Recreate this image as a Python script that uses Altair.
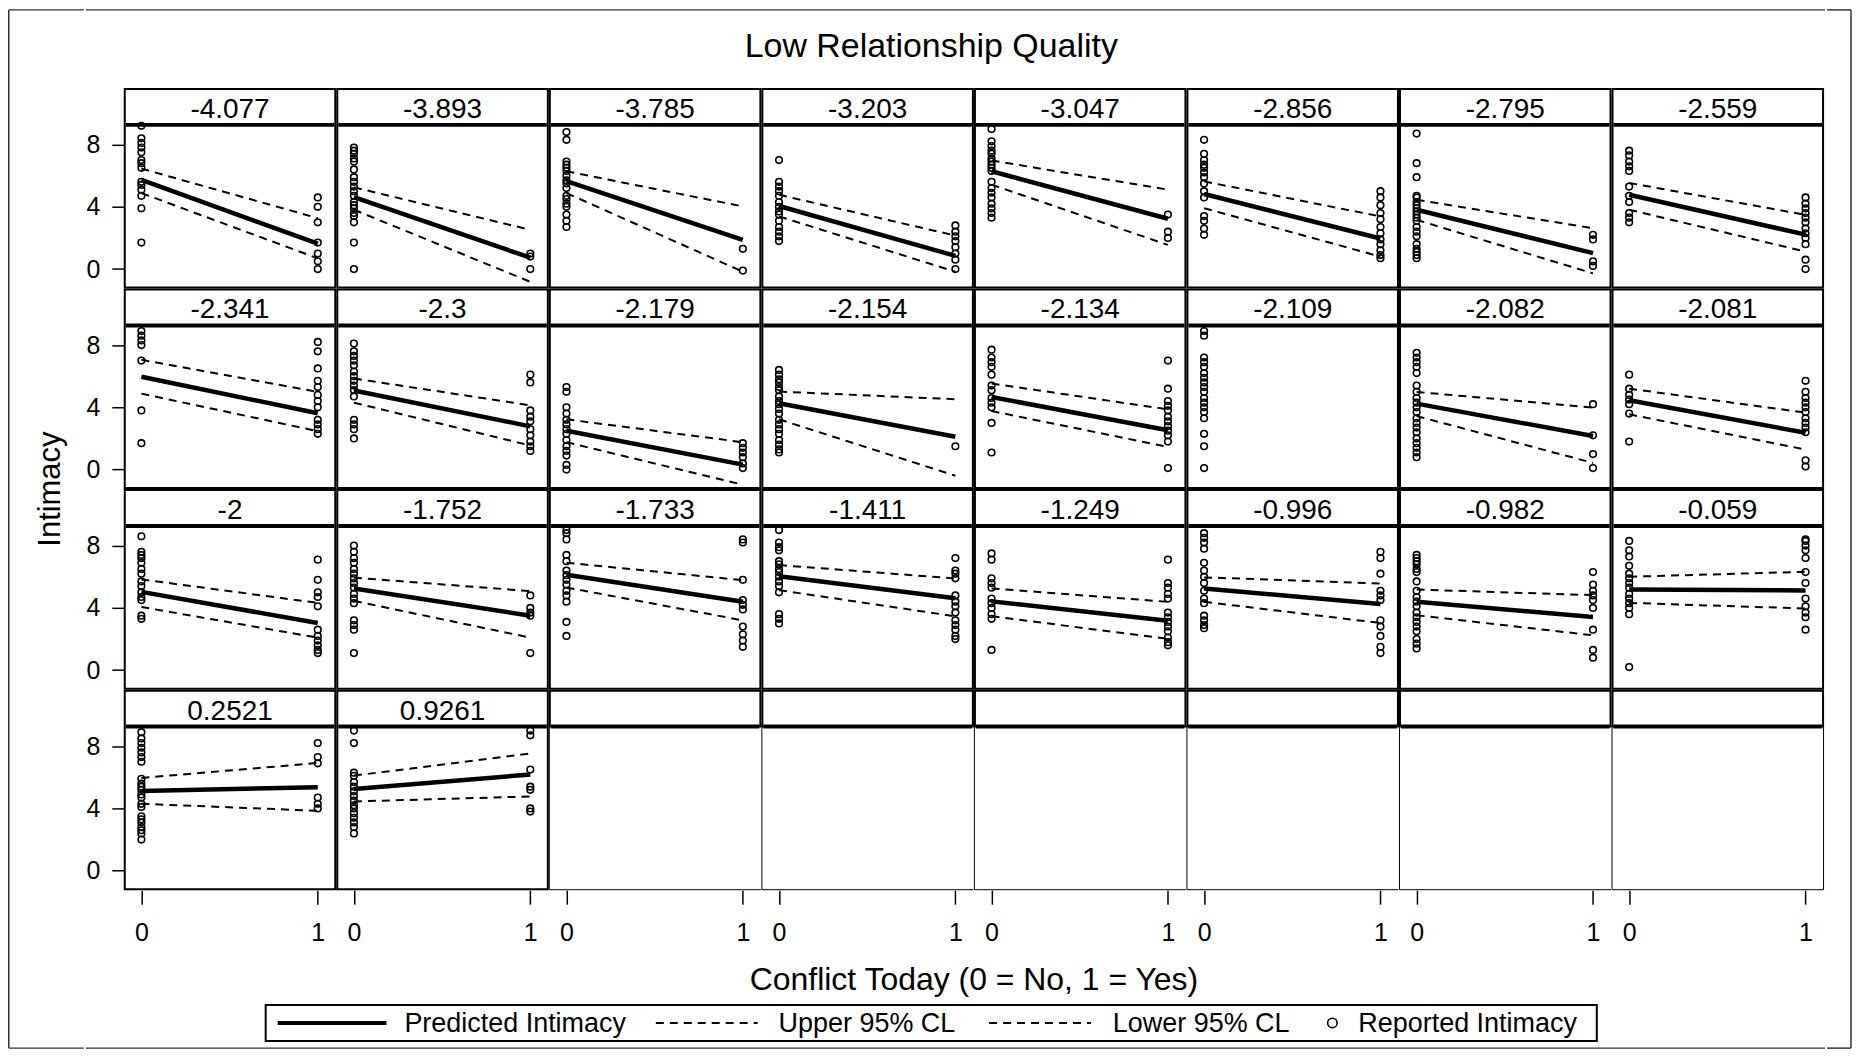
import altair as alt
import pandas as pd

FONT = "Liberation Sans"

title_text = "Low Relationship Quality"
x_title = "Conflict Today (0 = No, 1 = Yes)"
y_title = "Intimacy"
legend_labels = ["Predicted Intimacy", "Upper 95% CL", "Lower 95% CL", "Reported Intimacy"]
x_ticks = [0, 1]
y_ticks = [0, 4, 8]

headers = ["-4.077", "-3.893", "-3.785", "-3.203", "-3.047", "-2.856", "-2.795", "-2.559",
           "-2.341", "-2.3", "-2.179", "-2.154", "-2.134", "-2.109", "-2.082", "-2.081",
           "-2", "-1.752", "-1.733", "-1.411", "-1.249", "-0.996", "-0.982", "-0.059",
           "0.2521", "0.9261"]

pred0 = [5.72, 4.62, 5.65, 4.05, 6.28, 4.82, 3.81, 4.77,
         5.96, 5.08, 2.50, 4.26, 4.66, None, 4.24, 4.45,
         5.03, 5.25, 6.13, 6.03, 4.42, 5.25, 4.39, 5.18,
         5.12, 5.25]
pred1 = [1.64, 0.73, 1.87, 0.85, 3.23, 1.96, 1.02, 2.21,
         3.62, 2.78, 0.32, 2.11, 2.53, None, 2.16, 2.37,
         3.03, 3.50, 4.40, 4.62, 3.17, 4.25, 3.41, 5.12,
         5.37, 6.18]
upper0 = [6.45, 5.25, 6.28, 4.77, 6.97, 5.63, 4.45, 5.53,
          7.05, 5.85, 3.23, 5.01, 5.53, None, 4.99, 5.20,
          5.83, 5.94, 6.90, 6.75, 5.25, 5.96, 5.18, 6.00,
          5.96, 6.11]
upper1 = [3.27, 2.52, 4.02, 2.15, 5.10, 3.38, 2.62, 3.48,
          4.99, 4.13, 1.76, 4.52, 3.87, None, 3.98, 3.66,
          4.32, 5.08, 5.78, 5.89, 4.39, 5.57, 4.82, 6.32,
          6.92, 7.53]
lower0 = [4.88, 3.81, 4.88, 3.38, 5.42, 3.91, 3.16, 3.81,
          4.88, 4.30, 1.76, 3.23, 3.76, None, 3.44, 3.55,
          4.06, 4.45, 5.31, 5.14, 3.46, 4.39, 3.53, 4.32,
          4.30, 4.45]
lower1 = [0.69, -0.82, -0.17, -0.17, 1.55, 0.80, -0.28, 1.12,
          2.47, 1.55, -0.97, -0.39, 1.46, None, 0.43, 1.29,
          2.09, 2.09, 3.20, 3.46, 2.02, 3.03, 2.24, 3.96,
          3.85, 4.77]

pts0 = [
    [9.2, 8.4, 8.1, 7.8, 7.5, 7.0, 6.8, 6.5, 5.6, 5.4, 5.1, 4.7, 3.9, 1.7],
    [7.8, 7.6, 7.4, 7.1, 6.9, 6.4, 5.9, 5.6, 5.3, 5.0, 4.7, 4.3, 4.1, 3.9, 3.6, 3.4, 3.0, 1.7, 0.0],
    [8.8, 8.3, 6.9, 6.7, 6.5, 6.3, 6.0, 5.7, 5.5, 5.2, 4.7, 4.5, 4.2, 4.0, 3.5, 3.1, 2.7],
    [7.0, 5.6, 5.3, 5.0, 4.7, 4.3, 4.0, 3.7, 3.5, 3.1, 2.7, 2.4, 2.1, 1.8],
    [9.0, 8.2, 7.9, 7.6, 7.4, 7.1, 6.9, 6.7, 6.5, 6.3, 5.6, 5.2, 4.9, 4.6, 4.2, 3.9, 3.6, 3.3],
    [8.3, 7.4, 7.0, 6.7, 6.5, 6.2, 5.9, 5.5, 5.0, 4.6, 3.4, 3.1, 2.6, 2.2],
    [8.7, 6.8, 5.9, 4.7, 4.6, 4.3, 4.1, 3.9, 3.7, 3.5, 3.3, 3.1, 2.7, 2.4, 2.1, 1.6, 1.3, 1.1, 0.9, 0.7],
    [7.6, 7.3, 6.9, 6.6, 6.3, 5.3, 4.7, 4.3, 3.6, 3.3, 3.0],
    [8.9, 8.6, 8.3, 8.0, 7.0, 3.8, 1.7],
    [8.1, 7.6, 7.3, 7.0, 6.7, 6.3, 6.0, 5.7, 5.4, 5.1, 4.7, 3.2, 2.9, 2.6, 2.0],
    [5.3, 5.0, 4.0, 3.6, 3.2, 2.9, 2.6, 2.3, 1.9, 1.5, 1.2, 0.9, 0.3, 0.0],
    [6.4, 6.1, 5.8, 5.6, 5.3, 5.1, 4.7, 4.4, 4.2, 3.9, 3.6, 3.2, 2.9, 2.6, 2.3, 1.9, 1.6, 1.3, 1.1],
    [7.7, 7.2, 6.9, 6.6, 6.1, 5.4, 5.1, 4.6, 4.3, 4.0, 3.0, 1.1],
    [8.9, 8.6, 7.2, 6.9, 6.6, 6.2, 5.9, 5.6, 5.3, 5.0, 4.6, 4.3, 4.0, 3.7, 3.3, 2.3, 1.5, 0.1],
    [7.5, 7.2, 6.9, 6.6, 6.2, 5.4, 5.0, 4.6, 4.3, 4.0, 3.7, 3.3, 3.0, 2.7, 2.4, 2.0, 1.7, 1.4, 1.1, 0.8],
    [6.1, 5.2, 4.8, 4.5, 4.2, 3.6, 1.8],
    [8.6, 7.6, 7.4, 7.2, 6.9, 6.5, 6.2, 5.7, 5.4, 5.0, 4.7, 4.5, 3.5, 3.3],
    [8.0, 7.6, 7.2, 6.9, 6.5, 6.2, 5.9, 5.6, 5.3, 4.9, 4.6, 4.3, 3.2, 2.9, 2.6, 1.1],
    [9.0, 8.8, 8.4, 7.4, 7.0, 6.4, 6.1, 5.8, 5.5, 5.1, 4.8, 4.4, 3.1, 2.2],
    [9.0, 8.2, 7.9, 7.7, 7.0, 6.8, 6.5, 6.3, 6.0, 5.7, 5.4, 5.0, 3.6, 3.3, 3.0],
    [7.5, 7.1, 5.9, 5.6, 5.3, 4.6, 4.3, 4.0, 3.6, 3.3, 1.3],
    [8.8, 8.5, 8.2, 7.8, 6.9, 6.4, 6.0, 5.6, 5.1, 4.6, 4.3, 3.5, 3.2, 2.9, 2.7],
    [7.4, 7.2, 7.0, 6.8, 6.5, 6.3, 5.7, 5.1, 4.7, 4.4, 4.1, 3.7, 3.4, 3.1, 2.8, 2.5, 2.0, 1.7, 1.4],
    [8.3, 7.7, 7.3, 6.7, 6.2, 5.9, 5.6, 5.3, 4.9, 4.6, 4.3, 4.0, 3.6, 0.2],
    [8.9, 8.5, 8.2, 7.9, 7.6, 7.3, 7.0, 5.9, 5.6, 5.4, 5.2, 4.9, 4.7, 4.3, 4.1, 3.5, 3.3, 3.1, 2.8, 2.6, 2.4, 2.0],
    [9.0, 8.2, 6.3, 6.1, 5.7, 5.4, 5.1, 4.8, 4.5, 4.2, 4.0, 3.7, 3.4, 3.1, 2.8, 2.4],
]
pts1 = [
    [4.6, 4.0, 3.0, 1.7, 1.0, 0.5, 0.0],
    [1.0, 0.8, 0.0],
    [1.3, -0.1],
    [2.8, 2.4, 2.1, 1.8, 1.4, 1.0, 0.6, 0.0],
    [3.5, 2.4, 2.0],
    [5.0, 4.6, 4.1, 3.6, 3.2, 2.7, 2.3, 1.9, 1.6, 1.2, 0.9, 0.7],
    [2.2, 1.9, 0.5, 0.2],
    [4.6, 4.2, 3.9, 3.6, 3.3, 3.0, 2.6, 2.3, 2.0, 1.6, 0.6, 0.0],
    [8.2, 7.6, 6.5, 5.7, 5.3, 4.8, 4.4, 4.0, 3.2, 2.9, 2.6, 2.3],
    [6.1, 5.6, 3.8, 3.4, 3.1, 2.6, 2.2, 1.8, 1.5, 1.2],
    [1.7, 1.4, 1.1, 0.8, 0.4, 0.1],
    [1.5],
    [7.0, 5.2, 4.4, 4.1, 3.8, 3.4, 3.1, 2.8, 2.5, 2.2, 1.8, 0.1],
    [],
    [4.2, 2.2, 1.0, 0.1],
    [5.7, 5.0, 4.6, 4.3, 4.0, 3.7, 3.3, 3.0, 2.7, 2.4, 0.6, 0.2],
    [7.1, 5.8, 5.0, 4.7, 4.1, 2.6, 2.2, 1.9, 1.6, 1.3, 1.1],
    [4.8, 4.0, 3.7, 3.5, 1.1],
    [8.4, 8.2, 5.8, 4.5, 4.2, 3.9, 2.8, 2.3, 1.9, 1.5],
    [7.2, 6.4, 6.2, 5.9, 4.8, 4.4, 4.1, 3.7, 3.2, 2.9, 2.6, 2.2, 2.0],
    [7.1, 5.6, 5.3, 4.9, 4.6, 3.7, 3.4, 3.1, 2.8, 2.5, 2.1, 1.8, 1.6],
    [7.6, 7.2, 6.2, 5.1, 4.8, 4.5, 3.2, 2.8, 2.2, 1.5, 1.1],
    [6.3, 5.5, 5.1, 4.8, 4.5, 4.0, 2.6, 1.3, 0.8],
    [8.4, 8.3, 8.0, 7.7, 7.2, 6.3, 5.6, 4.6, 4.1, 3.7, 3.4, 2.6],
    [8.2, 7.3, 6.9, 4.7, 4.3, 4.0],
    [9.0, 8.7, 6.5, 5.4, 5.2, 4.0, 3.8],
]

# ---------------- layout constants ----------------
W, H, HDR = 213, 201, 37
NCOL, NROW = 8, 4
XDOM = [-0.1, 1.105]
YDOM = [-1.25, 11.63]
LEFTW = 76
YEXT = 38
MH = 866
TH, XH, LH = 79, 52, 45
TOTAL = TH + MH + XH + LH
CW = NCOL * W + 1          # width of the centre column measured from the first panel
OX = LEFTW + YEXT + 0.75   # chart x of the centre column origin
RIGHTW = 25
FRAME = "#333333"


def x_enc(show):
    sc = alt.Scale(domain=XDOM, nice=False, zero=False)
    if show:
        ax = alt.Axis(values=x_ticks, format="d", tickSize=14, labelPadding=16, labelFontSize=25,
                      labelFont=FONT, labelColor="black", tickColor="black", tickWidth=1.5,
                      domain=False, grid=False, title=None, labelAngle=0, labelFlush=False,
                      labelOverlap=False)
        return alt.X("x:Q", scale=sc, axis=ax)
    return alt.X("x:Q", scale=sc, axis=None)


def y_enc(show):
    sc = alt.Scale(domain=YDOM, nice=False, zero=False)
    if show:
        ax = alt.Axis(values=y_ticks, format="d", tickSize=12, labelPadding=12, labelFontSize=25,
                      labelFont=FONT, labelColor="black", tickColor="black", tickWidth=1.5,
                      domain=False, grid=False, title=None, labelFlush=False,
                      labelOverlap=False, minExtent=YEXT, maxExtent=YEXT)
        return alt.Y("y:Q", scale=sc, axis=ax)
    return alt.Y("y:Q", scale=sc, axis=None)


def header_layers(label, thin_box):
    one = pd.DataFrame({"label": [label]})
    layers = []
    if thin_box:
        layers.append(
            alt.Chart(one).mark_rect(fillOpacity=0, stroke="black", strokeWidth=2).encode(
                x=alt.value(1), x2=alt.value(W - 1), y=alt.value(1), y2=alt.value(HDR)))
    layers.append(
        alt.Chart(one).mark_rule(color="black", strokeWidth=4).encode(
            x=alt.value(2), x2=alt.value(W - 2), y=alt.value(HDR)))
    layers.append(
        alt.Chart(one).mark_text(font=FONT, fontSize=28, color="black", align="center",
                                 baseline="alphabetic").encode(
            x=alt.value(W / 2), y=alt.value(30), text="label:N"))
    return layers


def panel(i, r, c):
    X = x_enc(r == NROW - 1)
    Y = y_enc(c == 0)
    layers = []
    if pred0[i] is not None:
        df_cl = pd.DataFrame({"x": [0, 1, 0, 1],
                              "y": [upper0[i], upper1[i], lower0[i], lower1[i]],
                              "s": ["Upper", "Upper", "Lower", "Lower"]})
        layers.append(alt.Chart(df_cl).mark_line(color="black", strokeWidth=2,
                                                 strokeDash=[8, 6]).encode(
            x=X, y=Y, detail="s:N"))
        df_pr = pd.DataFrame({"x": [0, 1], "y": [pred0[i], pred1[i]]})
        layers.append(alt.Chart(df_pr).mark_line(color="black", strokeWidth=4.5).encode(x=X, y=Y))
    df_pts = pd.DataFrame({"x": [0] * len(pts0[i]) + [1] * len(pts1[i]),
                           "y": pts0[i] + pts1[i]})
    layers.append(alt.Chart(df_pts).mark_point(shape="circle", filled=False, size=44,
                                               strokeWidth=1.6, color="black",
                                               opacity=1).encode(x=X, y=Y))
    one = pd.DataFrame({"k": [0]})
    layers.append(alt.Chart(one).mark_rect(fillOpacity=0, stroke="black", strokeWidth=2).encode(
        x=alt.value(1), x2=alt.value(W - 1), y=alt.value(1), y2=alt.value(H - 1)))
    layers += header_layers(headers[i], False)
    return alt.layer(*layers).properties(width=W, height=H)


def empty_panel(r, c):
    X = x_enc(r == NROW - 1)
    Y = y_enc(c == 0)
    dummy = pd.DataFrame({"x": x_ticks, "y": [0] * len(x_ticks)})
    one = pd.DataFrame({"k": [0]})
    layers = [alt.Chart(dummy).mark_point(opacity=0).encode(x=X, y=Y)]
    layers.append(alt.Chart(one).mark_rule(color="black", strokeWidth=1).encode(
        x=alt.value(0.5), x2=alt.value(W - 0.5), y=alt.value(H - 0.5)))
    layers.append(alt.Chart(one).mark_rule(color="black", strokeWidth=1).encode(
        x=alt.value(0.5), y=alt.value(HDR), y2=alt.value(H - 0.5)))
    if c == NCOL - 1:
        layers.append(alt.Chart(one).mark_rule(color="black", strokeWidth=1).encode(
            x=alt.value(W - 0.5), y=alt.value(HDR), y2=alt.value(H - 0.5)))
    layers += header_layers("", True)
    return alt.layer(*layers).properties(width=W, height=H)


rows = []
for r in range(NROW):
    cells = []
    for c in range(NCOL):
        idx = r * NCOL + c
        cells.append(panel(idx, r, c) if idx < len(headers) else empty_panel(r, c))
    rows.append(alt.hconcat(*cells, spacing=0))
grid = alt.vconcat(*rows, spacing=0)

one = pd.DataFrame({"k": [0]})

# invisible 1px spacer fixing the height of the grid row
spacer = alt.Chart(one).mark_point(opacity=0, size=1).encode(
    x=alt.value(0), y=alt.value(1)).properties(width=1, height=MH)
grid_row = alt.hconcat(grid, spacer, spacing=0)


def frame_rule(x, x2, y, y2=None):
    enc = dict(x=alt.value(x), y=alt.value(y))
    if x2 is not None:
        enc["x2"] = alt.value(x2)
    if y2 is not None:
        enc["y2"] = alt.value(y2)
    return alt.Chart(one).mark_rule(color=FRAME, strokeWidth=1.5).encode(**enc)


left = alt.layer(
    frame_rule(0.75, None, 0.75, TOTAL - 0.75),
    frame_rule(0.75, LEFTW, 0.75),
    frame_rule(0.75, LEFTW, TOTAL - 0.75),
    alt.Chart(pd.DataFrame({"t": [y_title]})).mark_text(
        font=FONT, fontSize=31, angle=270, color="black", align="center",
        baseline="middle").encode(x=alt.value(43), y=alt.value(TH + NROW * H / 2), text="t:N"),
).properties(width=LEFTW, height=TOTAL)

right = alt.layer(
    frame_rule(RIGHTW - 1, None, 0.75, TOTAL - 0.75),
    frame_rule(0, RIGHTW - 1, 0.75),
    frame_rule(0, RIGHTW - 1, TOTAL - 0.75),
).properties(width=RIGHTW, height=TOTAL)

title_chart = alt.layer(
    frame_rule(-YEXT, CW, 0.75),
    alt.Chart(pd.DataFrame({"t": [title_text]})).mark_text(
        font=FONT, fontSize=34, color="black", align="center", baseline="alphabetic").encode(
        x=alt.value(924 - OX), y=alt.value(48), text="t:N"),
).properties(width=CW, height=TH)

grid_center = NCOL * W / 2
xtitle_chart = alt.layer(
    alt.Chart(pd.DataFrame({"t": [x_title]})).mark_text(
        font=FONT, fontSize=32, color="black", align="center", baseline="alphabetic").encode(
        x=alt.value(grid_center), y=alt.value(38), text="t:N"),
).properties(width=CW, height=XH)

GY = 19
leg = [
    frame_rule(-YEXT, CW, LH - 0.75),
    alt.Chart(one).mark_rect(fillOpacity=0, stroke="black", strokeWidth=2).encode(
        x=alt.value(257 - OX), x2=alt.value(1591 - OX), y=alt.value(1), y2=alt.value(37)),
    alt.Chart(one).mark_rule(color="black", strokeWidth=4).encode(
        x=alt.value(269 - OX), x2=alt.value(378 - OX), y=alt.value(GY)),
    alt.Chart(one).mark_rule(color="black", strokeWidth=2, strokeDash=[8, 6]).encode(
        x=alt.value(648 - OX), x2=alt.value(750 - OX), y=alt.value(GY)),
    alt.Chart(one).mark_rule(color="black", strokeWidth=2, strokeDash=[8, 6]).encode(
        x=alt.value(982 - OX), x2=alt.value(1084 - OX), y=alt.value(GY)),
    alt.Chart(one).mark_point(shape="circle", filled=False, size=90, strokeWidth=1.6,
                              color="black", opacity=1).encode(
        x=alt.value(1326 - OX), y=alt.value(GY)),
]
for lab, xp in zip(legend_labels, [396, 771, 1106, 1352]):
    leg.append(alt.Chart(pd.DataFrame({"t": [lab]})).mark_text(
        font=FONT, fontSize=27, color="black", align="left", baseline="alphabetic").encode(
        x=alt.value(xp - OX), y=alt.value(28), text="t:N"))
legend_chart = alt.layer(*leg).properties(width=CW, height=LH)

center = alt.vconcat(title_chart, grid_row, xtitle_chart, legend_chart, spacing=0)

chart = alt.hconcat(left, center, right, spacing=0).properties(
    padding=0, background="white").configure_view(stroke=None)

chart.save("out.html", embed_options={"renderer": "svg", "actions": False})
